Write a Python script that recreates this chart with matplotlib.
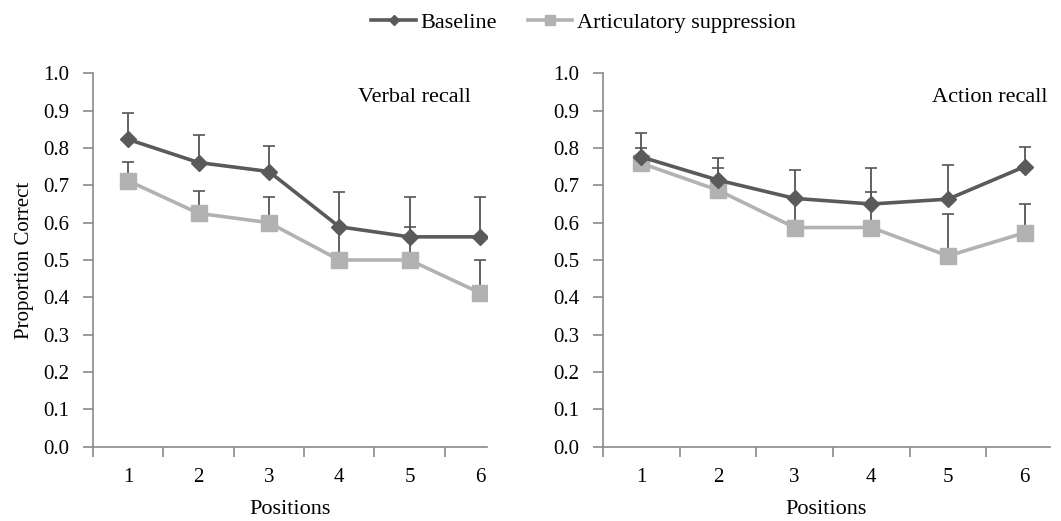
import matplotlib.pyplot as plt
import numpy as np

plt.rcParams['font.family'] = ['Liberation Serif', 'DejaVu Serif']

positions = [1, 2, 3, 4, 5, 6]

verbal_base = [0.823, 0.761, 0.737, 0.589, 0.562, 0.562]
verbal_base_err = [0.070, 0.074, 0.068, 0.092, 0.107, 0.107]
verbal_as = [0.712, 0.625, 0.600, 0.500, 0.500, 0.412]
verbal_as_err = [0.051, 0.060, 0.070, 0.089, 0.089, 0.088]

action_base = [0.776, 0.714, 0.665, 0.650, 0.663, 0.750]
action_base_err = [0.063, 0.058, 0.076, 0.097, 0.091, 0.053]
action_as = [0.759, 0.687, 0.587, 0.587, 0.511, 0.573]
action_as_err = [0.040, 0.060, 0.078, 0.094, 0.111, 0.076]

dark = '#5a5a5a'
light = '#b2b2b2'
spine_col = '#8a8a8a'

fig = plt.figure(figsize=(10.61, 5.21), dpi=100)
ax1 = fig.add_axes([0.0877, 0.1426, 0.3713, 0.7167])
ax2 = fig.add_axes([0.5683, 0.1426, 0.4213, 0.7167])


def panel(ax, base, base_err, sup, sup_err, title, xmax, tx):
    x = np.array(positions)
    ax.errorbar(x, sup, yerr=[np.zeros(6), sup_err], fmt='none', ecolor='#555555',
                elinewidth=1.3, capsize=4, capthick=1.2, zorder=2)
    ax.errorbar(x, base, yerr=[np.zeros(6), base_err], fmt='none', ecolor='#555555',
                elinewidth=1.3, capsize=4, capthick=1.2, zorder=2)
    ax.plot(x, sup, color=light, lw=2.6, marker='s', ms=11, label='Articulatory suppression', zorder=3)
    ax.plot(x, base, color=dark, lw=2.6, marker='D', ms=8, label='Baseline', zorder=4)
    ax.set_xlim(0.5, xmax)
    ax.set_ylim(0, 1.0)
    ax.set_yticks(np.arange(0, 1.01, 0.1))
    ax.set_yticklabels(['%.1f' % v for v in np.arange(0, 1.01, 0.1)], fontsize=15)
    ax.set_xticks(x)
    ax.set_xticklabels([str(p) for p in positions], fontsize=15)
    ax.set_xticks(np.arange(0.5, 6.0, 1.0), minor=True)
    ax.tick_params(axis='x', which='major', length=0, pad=15)
    ax.tick_params(axis='x', which='minor', length=7, color=spine_col, width=1.2)
    ax.tick_params(axis='y', length=7, color=spine_col, width=1.2, pad=10)
    for s in ['top', 'right']:
        ax.spines[s].set_visible(False)
    for s in ['left', 'bottom']:
        ax.spines[s].set_color(spine_col)
        ax.spines[s].set_linewidth(1.2)
    ax.set_xlabel('Positions', fontsize=16, labelpad=10)
    ax.text(tx, 0.935, title, transform=ax.transAxes, ha='right', va='center', fontsize=16)


panel(ax1, verbal_base, verbal_base_err, verbal_as, verbal_as_err, 'Verbal recall', 6.1, 0.96)
panel(ax2, action_base, action_base_err, action_as, action_as_err, 'Action recall', 6.33, 0.995)
ax1.set_ylabel('Proportion Correct', fontsize=15, labelpad=7)

h, l = ax1.get_legend_handles_labels()
fig.legend(h[::-1], l[::-1], loc='upper center', bbox_to_anchor=(0.55, 1.015), ncol=2,
           frameon=False, fontsize=16, handlelength=2.0, columnspacing=1.4,
           handletextpad=0.2, markerscale=0.7)

fig.savefig('out.png', dpi=100)
